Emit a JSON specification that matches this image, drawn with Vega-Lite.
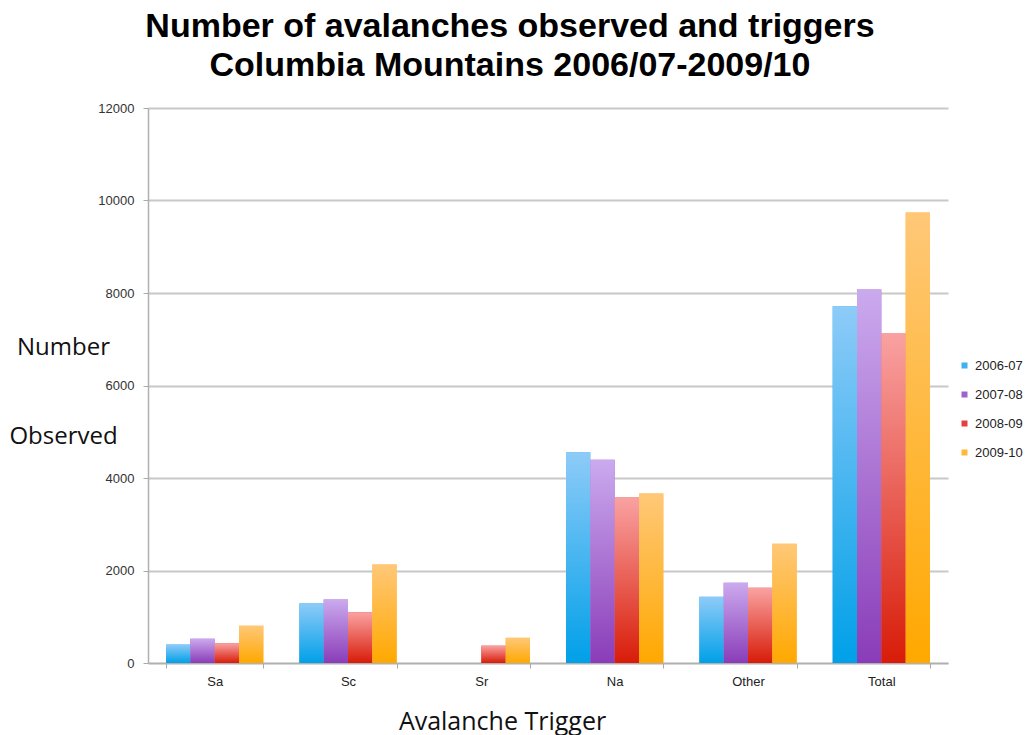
{
  "$schema": "https://vega.github.io/schema/vega-lite/v6.json",
  "autosize": "none",
  "width": 800,
  "height": 555,
  "padding": {"left": 148, "top": 108, "right": 82, "bottom": 72},
  "background": "white",
  "title": {
    "text": ["Number of avalanches observed and triggers", "Columbia Mountains 2006/07-2009/10"],
    "font": "Liberation Sans",
    "fontSize": 34,
    "fontWeight": "bold",
    "color": "#000000",
    "lineHeight": 39,
    "anchor": "middle",
    "frame": "group",
    "dx": -38,
    "offset": 19
  },
  "data": {
    "values": [
      {"trigger": "Sa", "season": "2006-07", "count": 400},
      {"trigger": "Sa", "season": "2007-08", "count": 525},
      {"trigger": "Sa", "season": "2008-09", "count": 425},
      {"trigger": "Sa", "season": "2009-10", "count": 805},
      {"trigger": "Sc", "season": "2006-07", "count": 1290},
      {"trigger": "Sc", "season": "2007-08", "count": 1375},
      {"trigger": "Sc", "season": "2008-09", "count": 1095},
      {"trigger": "Sc", "season": "2009-10", "count": 2130},
      {"trigger": "Sr", "season": "2006-07", "count": 0},
      {"trigger": "Sr", "season": "2007-08", "count": 0},
      {"trigger": "Sr", "season": "2008-09", "count": 375},
      {"trigger": "Sr", "season": "2009-10", "count": 545},
      {"trigger": "Na", "season": "2006-07", "count": 4555},
      {"trigger": "Na", "season": "2007-08", "count": 4395},
      {"trigger": "Na", "season": "2008-09", "count": 3580},
      {"trigger": "Na", "season": "2009-10", "count": 3665},
      {"trigger": "Other", "season": "2006-07", "count": 1430},
      {"trigger": "Other", "season": "2007-08", "count": 1735},
      {"trigger": "Other", "season": "2008-09", "count": 1625},
      {"trigger": "Other", "season": "2009-10", "count": 2580},
      {"trigger": "Total", "season": "2006-07", "count": 7715},
      {"trigger": "Total", "season": "2007-08", "count": 8075},
      {"trigger": "Total", "season": "2008-09", "count": 7135},
      {"trigger": "Total", "season": "2009-10", "count": 9740}
    ]
  },
  "encoding": {
    "x": {
      "field": "trigger",
      "type": "nominal",
      "sort": ["Sa", "Sc", "Sr", "Na", "Other", "Total"],
      "scale": {"paddingInner": 0.27, "paddingOuter": 0.135},
      "axis": {
        "title": "Avalanche Trigger",
        "titleFont": "Open Sans",
        "titleFontSize": 25,
        "titleFontWeight": "normal",
        "titleColor": "#111111",
        "titleX": 354,
        "titleY": 66,
        "titleBaseline": "alphabetic",
        "titleAlign": "center",
        "labelAngle": 0,
        "labelFont": "Liberation Sans",
        "labelFontSize": 13,
        "labelColor": "#222222",
        "labelPadding": 7,
        "tickBand": "extent",
        "tickSize": 5,
        "tickColor": "#aaaaaa",
        "domainColor": "#b0b0b0",
        "domainWidth": 1.5,
        "grid": false
      }
    },
    "xOffset": {
      "field": "season",
      "type": "nominal",
      "scale": {"domain": ["2006-07", "2007-08", "2008-09", "2009-10"], "paddingInner": 0, "paddingOuter": 0}
    },
    "y": {
      "field": "count",
      "type": "quantitative",
      "scale": {"domain": [0, 12000], "nice": false},
      "axis": {
        "values": [0, 2000, 4000, 6000, 8000, 10000, 12000],
        "format": "d",
        "title": ["Number", "Observed"],
        "titleFont": "Open Sans",
        "titleFontSize": 24,
        "titleFontWeight": "normal",
        "titleColor": "#111111",
        "titleAngle": 0,
        "titleAlign": "center",
        "titleBaseline": "alphabetic",
        "titleLineHeight": 89,
        "titleX": -85,
        "titleY": 246,
        "labelFont": "Liberation Sans",
        "labelFontSize": 13,
        "labelColor": "#333333",
        "labelPadding": 9,
        "tickSize": 5,
        "tickColor": "#aaaaaa",
        "domainColor": "#b0b0b0",
        "domainWidth": 1.5,
        "gridColor": "#c8c8c8",
        "gridWidth": 2
      }
    }
  },
  "layer": [
    {
      "mark": {"type": "bar"},
      "encoding": {
        "color": {
          "field": "season",
          "type": "nominal",
          "scale": {
            "domain": ["2006-07", "2007-08", "2008-09", "2009-10"],
            "range": ["#3fb1ef", "#9d62cc", "#e54040", "#ffb838"]
          },
          "legend": {
            "title": null,
            "orient": "none",
            "legendX": 810,
            "legendY": 251,
            "symbolType": "square",
            "symbolSize": 36,
            "symbolStrokeWidth": 0,
            "labelFont": "Liberation Sans",
            "labelFontSize": 13,
            "labelColor": "#222222",
            "labelOffset": 4,
            "rowPadding": 15
          }
        }
      }
    },
    {
      "transform": [{"filter": "datum.season === '2006-07'"}],
      "mark": {"type": "bar", "fill": {"gradient": "linear", "x1": 0, "y1": 1, "x2": 0, "y2": 0, "stops": [{"offset": 0, "color": "#00a0e8"}, {"offset": 1, "color": "#8ecbf8"}]}}
    },
    {
      "transform": [{"filter": "datum.season === '2007-08'"}],
      "mark": {"type": "bar", "fill": {"gradient": "linear", "x1": 0, "y1": 1, "x2": 0, "y2": 0, "stops": [{"offset": 0, "color": "#8a3cb8"}, {"offset": 1, "color": "#cbaaee"}]}}
    },
    {
      "transform": [{"filter": "datum.season === '2008-09'"}],
      "mark": {"type": "bar", "fill": {"gradient": "linear", "x1": 0, "y1": 1, "x2": 0, "y2": 0, "stops": [{"offset": 0, "color": "#d81c08"}, {"offset": 1, "color": "#f9a2a2"}]}}
    },
    {
      "transform": [{"filter": "datum.season === '2009-10'"}],
      "mark": {"type": "bar", "fill": {"gradient": "linear", "x1": 0, "y1": 1, "x2": 0, "y2": 0, "stops": [{"offset": 0, "color": "#ffa800"}, {"offset": 1, "color": "#ffc878"}]}}
    }
  ],
  "config": {
    "view": {"stroke": null}
  }
}
